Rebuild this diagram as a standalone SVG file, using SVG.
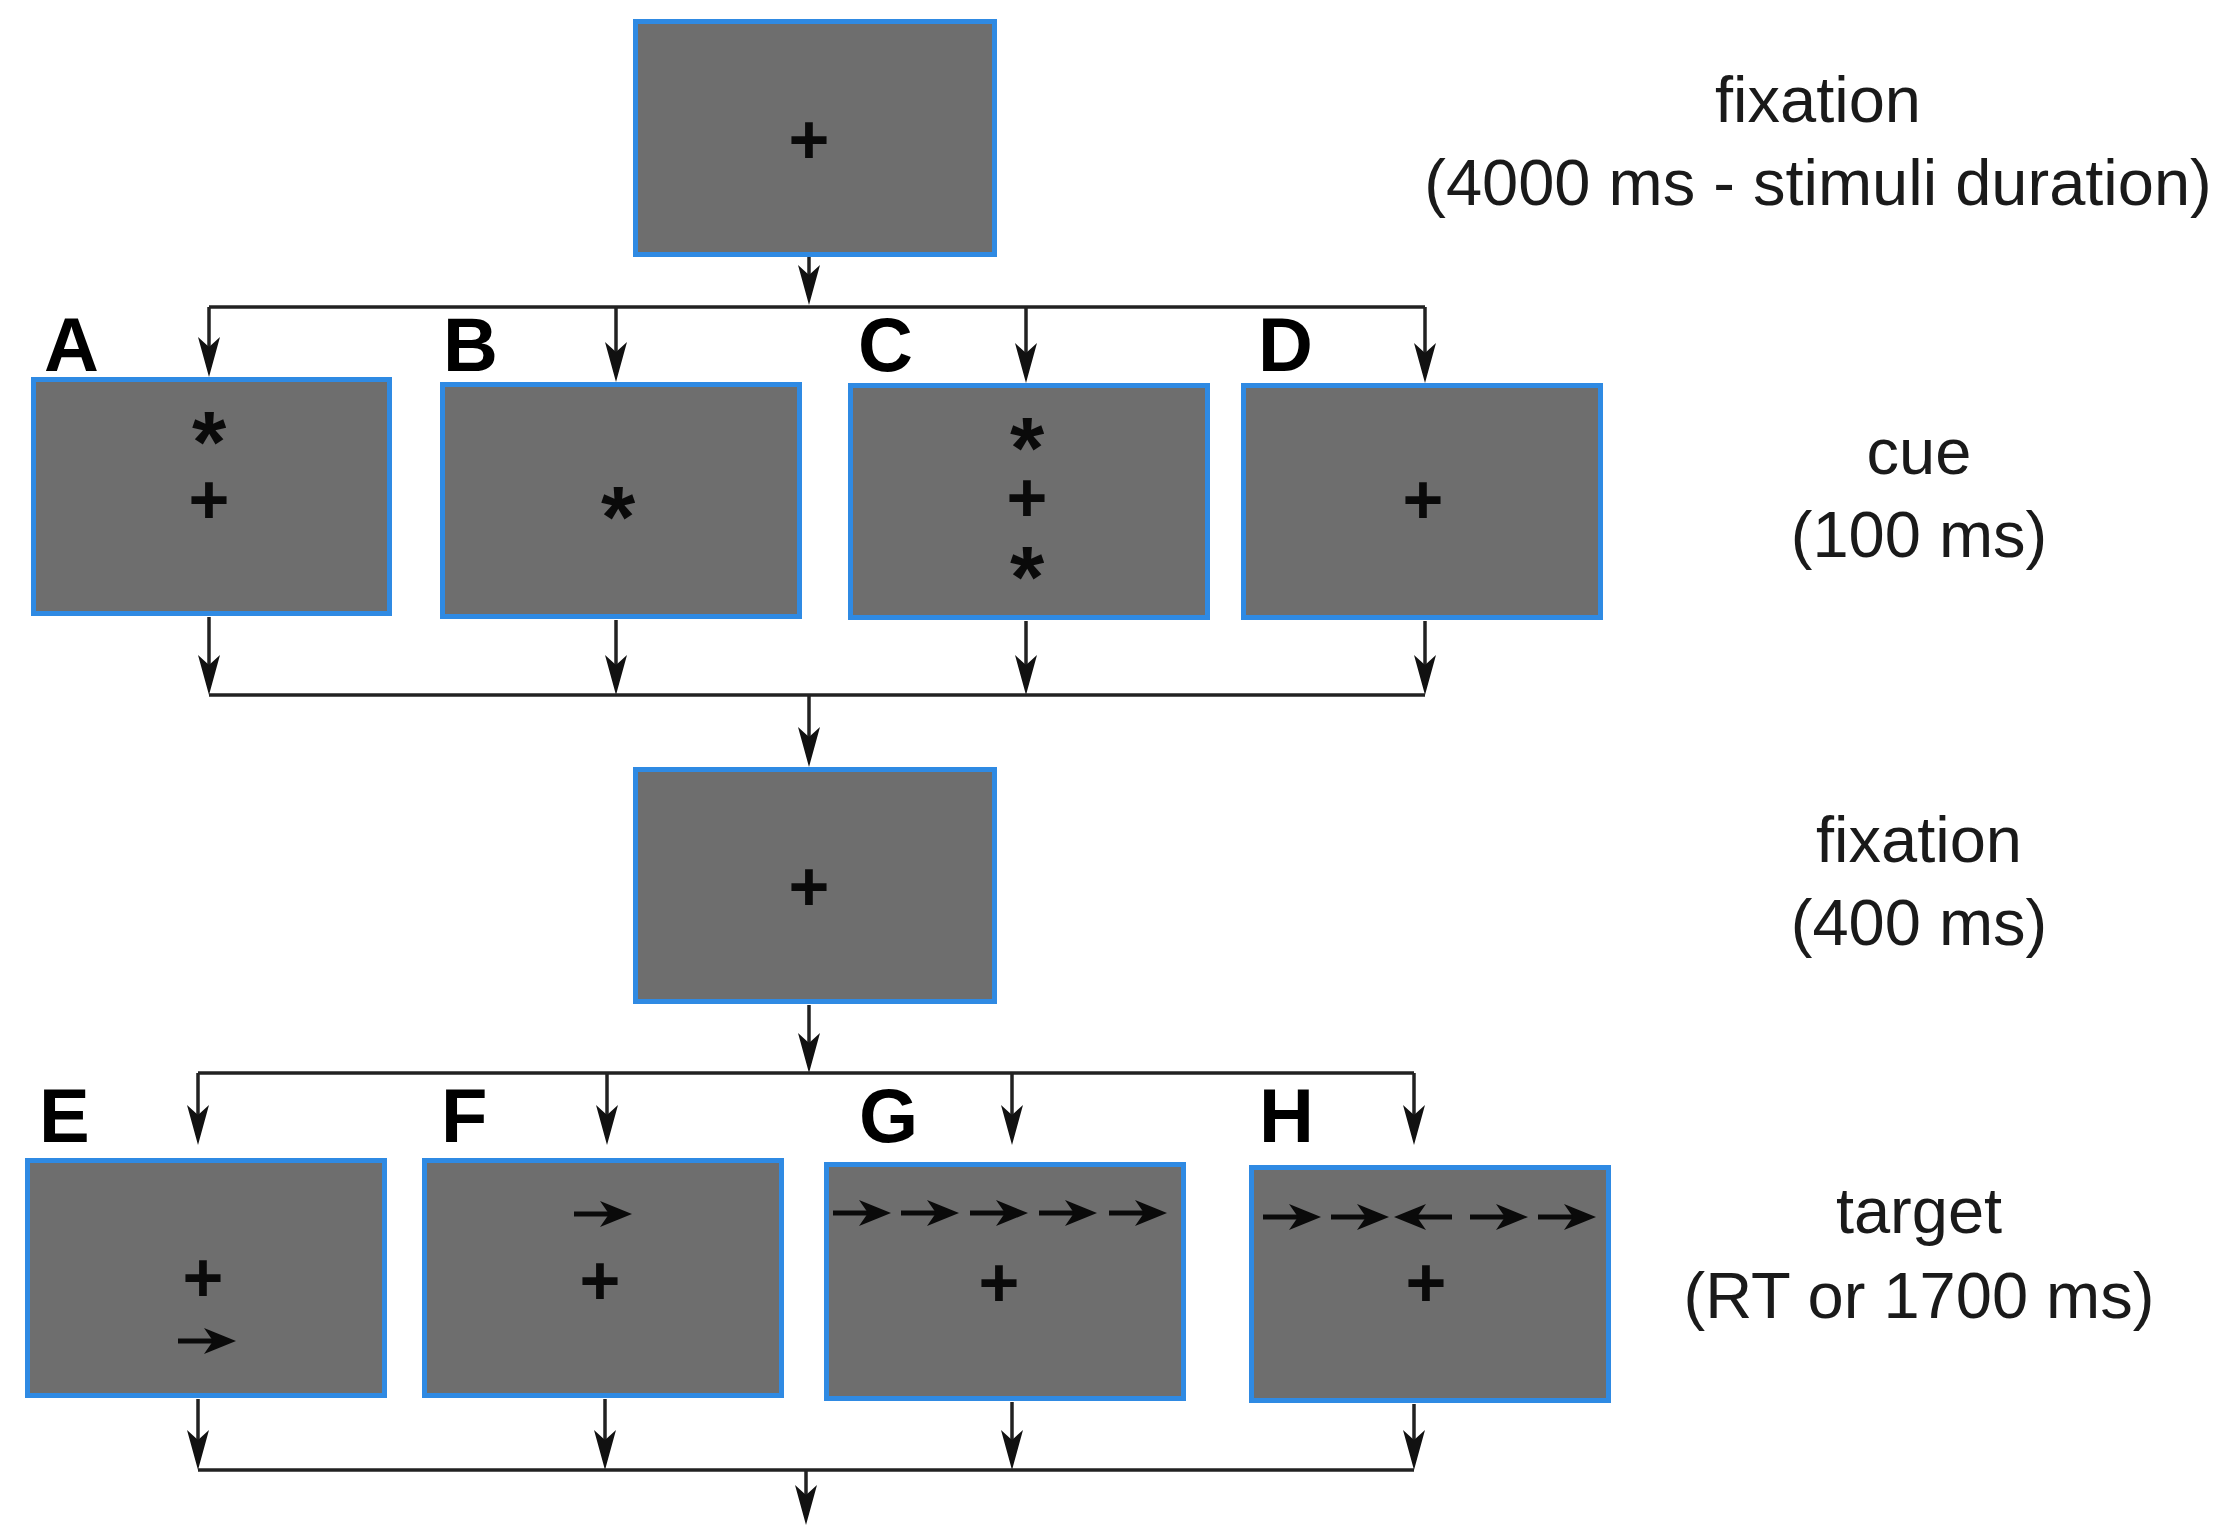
<svg xmlns="http://www.w3.org/2000/svg" width="2217" height="1533" viewBox="0 0 2217 1533">
<style>
.box{fill:#6e6e6e;stroke:#2f8ae3;stroke-width:5}
.sym{font-family:"Liberation Sans",Arial,sans-serif;fill:#0a0a0a;text-anchor:middle}
.plus{font-size:70px;font-weight:bold}
.ast{font-size:88px;font-weight:bold}
.lbl{font-family:"Liberation Sans",Arial,sans-serif;font-size:76px;font-weight:bold;fill:#000}
.cap{font-family:"Liberation Sans",Arial,sans-serif;font-size:65px;fill:#1a1a1a;text-anchor:middle}
.con{stroke:#222;stroke-width:3.5;fill:none}
.stim{stroke:#0a0a0a;stroke-width:5;fill:none}
</style>
<defs>
<marker id="ah" markerUnits="userSpaceOnUse" markerWidth="44" markerHeight="26" viewBox="-34 -13 44 26" refX="0" refY="0" orient="auto">
<path d="M8,0 L-32,-11 L-22,0 L-32,11 Z" fill="#111"/>
</marker>
<g id="ra">
<path d="M-58,0 H-20" class="stim"/>
<path d="M0,0 L-32,-13 L-23,0 L-32,13 Z" fill="#0a0a0a"/>
</g>
<g id="la">
<path d="M58,0 H20" class="stim"/>
<path d="M0,0 L32,-13 L23,0 L32,13 Z" fill="#0a0a0a"/>
</g>
</defs>

<g id="connectors">
<path class="con" d="M809,257 V297" marker-end="url(#ah)"/>
<path class="con" d="M209,307 H1425"/>
<path class="con" d="M209,307 V369" marker-end="url(#ah)"/>
<path class="con" d="M616,307 V374" marker-end="url(#ah)"/>
<path class="con" d="M1026,307 V375" marker-end="url(#ah)"/>
<path class="con" d="M1425,307 V375" marker-end="url(#ah)"/>
<path class="con" d="M209,617 V687" marker-end="url(#ah)"/>
<path class="con" d="M616,620 V687" marker-end="url(#ah)"/>
<path class="con" d="M1026,621 V687" marker-end="url(#ah)"/>
<path class="con" d="M1425,621 V687" marker-end="url(#ah)"/>
<path class="con" d="M209,695 H1425"/>
<path class="con" d="M809,695 V759" marker-end="url(#ah)"/>
<path class="con" d="M809,1005 V1065" marker-end="url(#ah)"/>
<path class="con" d="M198,1073 H1414"/>
<path class="con" d="M198,1073 V1137" marker-end="url(#ah)"/>
<path class="con" d="M607,1073 V1137" marker-end="url(#ah)"/>
<path class="con" d="M1012,1073 V1137" marker-end="url(#ah)"/>
<path class="con" d="M1414,1073 V1137" marker-end="url(#ah)"/>
<path class="con" d="M198,1399 V1462" marker-end="url(#ah)"/>
<path class="con" d="M605,1399 V1462" marker-end="url(#ah)"/>
<path class="con" d="M1012,1402 V1462" marker-end="url(#ah)"/>
<path class="con" d="M1414,1404 V1462" marker-end="url(#ah)"/>
<path class="con" d="M198,1470 H1414"/>
<path class="con" d="M806,1470 V1517" marker-end="url(#ah)"/>
</g>

<g id="fixation1">
<rect class="box" x="635.5" y="21.5" width="359" height="233"/>
<text class="sym plus" x="809" y="164">+</text>
</g>

<g id="cueA">
<rect class="box" x="33.5" y="379.5" width="356" height="234"/>
<text class="lbl" x="44" y="371">A</text>
<text class="sym ast" x="209" y="472">*</text>
<text class="sym plus" x="209" y="524">+</text>
</g>
<g id="cueB">
<rect class="box" x="442.5" y="384.5" width="357" height="232"/>
<text class="lbl" x="443" y="371">B</text>
<text class="sym ast" x="618" y="547">*</text>
</g>
<g id="cueC">
<rect class="box" x="850.5" y="385.5" width="357" height="232"/>
<text class="lbl" x="858" y="371">C</text>
<text class="sym ast" x="1027" y="478">*</text>
<text class="sym plus" x="1027" y="522">+</text>
<text class="sym ast" x="1027" y="607">*</text>
</g>
<g id="cueD">
<rect class="box" x="1243.5" y="385.5" width="357" height="232"/>
<text class="lbl" x="1258" y="371">D</text>
<text class="sym plus" x="1423" y="524">+</text>
</g>

<g id="fixation2">
<rect class="box" x="635.5" y="769.5" width="359" height="232"/>
<text class="sym plus" x="809" y="911">+</text>
</g>

<g id="targetE">
<rect class="box" x="27.5" y="1160.5" width="357" height="235"/>
<text class="lbl" x="39" y="1142">E</text>
<text class="sym plus" x="203" y="1302">+</text>
<use href="#ra" x="236" y="1341"/>
</g>
<g id="targetF">
<rect class="box" x="424.5" y="1160.5" width="357" height="235"/>
<text class="lbl" x="441" y="1142">F</text>
<use href="#ra" x="632" y="1214"/>
<text class="sym plus" x="600" y="1305">+</text>
</g>
<g id="targetG">
<rect class="box" x="826.5" y="1164.5" width="357" height="234"/>
<text class="lbl" x="859" y="1142">G</text>
<use href="#ra" x="891" y="1213"/>
<use href="#ra" x="959" y="1213"/>
<use href="#ra" x="1028" y="1213"/>
<use href="#ra" x="1097" y="1213"/>
<use href="#ra" x="1167" y="1213"/>
<text class="sym plus" x="999" y="1307">+</text>
</g>
<g id="targetH">
<rect class="box" x="1251.5" y="1167.5" width="357" height="233"/>
<text class="lbl" x="1259" y="1142">H</text>
<use href="#ra" x="1321" y="1217"/>
<use href="#ra" x="1389" y="1217"/>
<use href="#la" x="1394" y="1217"/>
<use href="#ra" x="1528" y="1217"/>
<use href="#ra" x="1596" y="1217"/>
<text class="sym plus" x="1426" y="1307">+</text>
</g>

<g id="captions">
<text class="cap" x="1818" y="122">fixation</text>
<text class="cap" x="1818" y="205">(4000 ms - stimuli duration)</text>
<text class="cap" x="1919" y="474">cue</text>
<text class="cap" x="1919" y="557">(100 ms)</text>
<text class="cap" x="1919" y="862">fixation</text>
<text class="cap" x="1919" y="945">(400 ms)</text>
<text class="cap" x="1919" y="1233">target</text>
<text class="cap" x="1919" y="1318">(RT or 1700 ms)</text>
</g>
</svg>
